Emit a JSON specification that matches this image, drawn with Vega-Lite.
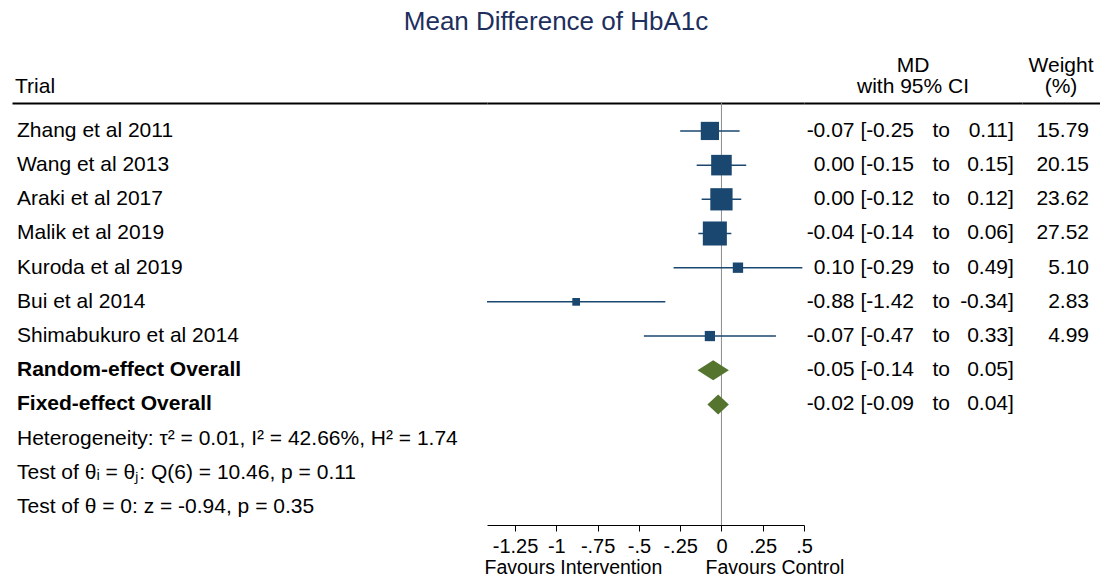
{
  "$schema": "https://vega.github.io/schema/vega-lite/v6.json",
  "padding": {"left": 12, "top": 9, "right": 0, "bottom": 0},
  "title": {
    "text": "Mean Difference of HbA1c",
    "fontSize": 26,
    "fontWeight": "normal",
    "font": "Liberation Sans",
    "color": "#1e2f5e",
    "anchor": "middle",
    "offset": 20
  },
  "datasets": {
    "forest": [
      {"label": "Zhang et al 2011", "kind": "study", "md": -0.07, "lo": -0.25, "hi": 0.11, "w": 15.79},
      {"label": "Wang et al 2013", "kind": "study", "md": 0.0, "lo": -0.15, "hi": 0.15, "w": 20.15},
      {"label": "Araki et al 2017", "kind": "study", "md": 0.0, "lo": -0.12, "hi": 0.12, "w": 23.62},
      {"label": "Malik et al 2019", "kind": "study", "md": -0.04, "lo": -0.14, "hi": 0.06, "w": 27.52},
      {"label": "Kuroda et al 2019", "kind": "study", "md": 0.1, "lo": -0.29, "hi": 0.49, "w": 5.1},
      {"label": "Bui et al 2014", "kind": "study", "md": -0.88, "lo": -1.42, "hi": -0.34, "w": 2.83},
      {"label": "Shimabukuro et al 2014", "kind": "study", "md": -0.07, "lo": -0.47, "hi": 0.33, "w": 4.99},
      {"label": "Random-effect Overall", "kind": "overall", "md": -0.05, "lo": -0.14, "hi": 0.05},
      {"label": "Fixed-effect Overall", "kind": "overall", "md": -0.02, "lo": -0.09, "hi": 0.04},
      {"label": "Heterogeneity: τ² = 0.01, I² = 42.66%, H² = 1.74", "kind": "note"},
      {"label": "Test of θᵢ = θⱼ: Q(6) = 10.46, p = 0.11", "kind": "note"},
      {"label": "Test of θ = 0: z = -0.94, p = 0.35", "kind": "note"}
    ]
  },
  "spacing": 0,
  "bounds": "flush",
  "hconcat": [
    {
      "width": 475,
      "height": 422,
      "title": {"text": "Trial", "anchor": "start", "dx": 3, "fontSize": 21, "fontWeight": "normal", "font": "Liberation Sans", "color": "#000", "baseline": "bottom", "offset": -15, "lineHeight": 21},
      "data": {"name": "forest"},
      "layer": [
        {
          "transform": [{"filter": "datum.kind != 'overall'"}],
          "mark": {"type": "text", "align": "left", "baseline": "middle", "dx": 5, "fontSize": 21},
          "encoding": {
            "x": {"datum": "trial", "type": "nominal", "bandPosition": 0, "scale": {"type": "band", "paddingInner": 0, "paddingOuter": 0},
                  "axis": {"orient": "top", "domain": true, "domainColor": "#000", "domainWidth": 2, "ticks": false, "labels": false, "grid": false, "title": null, "minExtent": 0, "maxExtent": 0}},
            "y": {"field": "label", "type": "nominal", "sort": null, "axis": null,
                  "scale": {"type": "band", "paddingInner": 0, "paddingOuter": 0.1726, "align": 0.92,
                            "domain": ["Zhang et al 2011", "Wang et al 2013", "Araki et al 2017", "Malik et al 2019", "Kuroda et al 2019", "Bui et al 2014", "Shimabukuro et al 2014", "Random-effect Overall", "Fixed-effect Overall", "Heterogeneity: τ² = 0.01, I² = 42.66%, H² = 1.74", "Test of θᵢ = θⱼ: Q(6) = 10.46, p = 0.11", "Test of θ = 0: z = -0.94, p = 0.35"]}},
            "text": {"field": "label"}
          }
        },
        {
          "transform": [{"filter": "datum.kind == 'overall'"}],
          "mark": {"type": "text", "align": "left", "baseline": "middle", "dx": 5, "fontSize": 21, "fontWeight": "bold"},
          "encoding": {
            "x": {"datum": "trial", "type": "nominal", "bandPosition": 0,
                  "axis": {"orient": "top", "domain": true, "domainColor": "#000", "domainWidth": 2, "ticks": false, "labels": false, "grid": false, "title": null, "minExtent": 0, "maxExtent": 0}},
            "y": {"field": "label", "type": "nominal", "sort": null, "axis": null},
            "text": {"field": "label"}
          }
        }
      ]
    },
    {
      "width": 317,
      "height": 422,
      "data": {"name": "forest"},
      "layer": [
        {
          "data": {"values": [{}]},
          "mark": {"type": "rule", "color": "#8c8c8c", "strokeWidth": 1},
          "encoding": {
            "x": {"datum": 0, "type": "quantitative", "scale": {"domain": [-1.42, 0.5], "nice": false, "zero": false},
                  "axis": {"orient": "top", "domain": true, "domainColor": "#000", "domainWidth": 2, "ticks": false, "labels": false, "grid": false, "title": null, "minExtent": 0, "maxExtent": 0}}
          }
        },
        {
          "transform": [{"filter": "datum.kind == 'study'"}],
          "mark": {"type": "rule", "color": "#1a476f", "strokeWidth": 1.5},
          "encoding": {
            "x": {"field": "lo", "type": "quantitative",
                  "axis": {"orient": "bottom", "values": [-1.25, -1, -0.75, -0.5, -0.25, 0, 0.25, 0.5],
                           "labelExpr": "replace('' + datum.value, '0.', '.')",
                           "grid": false, "domainColor": "#000", "domainWidth": 1, "tickColor": "#000", "tickSize": 6, "tickWidth": 1,
                           "labelFontSize": 20, "labelFont": "Liberation Sans", "labelColor": "#000", "labelPadding": 5,
                           "labelFlush": false, "labelOverlap": false,
                           "title": "Favours Intervention\u00a0\u00a0\u00a0\u00a0\u00a0\u00a0\u00a0\u00a0Favours Control",
                           "titleFontSize": 19.5, "titleFont": "Liberation Sans", "titleFontWeight": "normal", "titleColor": "#000",
                           "titleAnchor": "start", "titleAlign": "left", "titleX": -3, "titleY": 48, "titleBaseline": "alphabetic"}},
            "x2": {"field": "hi"},
            "y": {"field": "label", "type": "nominal", "sort": null, "axis": null,
                  "scale": {"type": "band", "paddingInner": 0, "paddingOuter": 0.1726, "align": 0.92,
                            "domain": ["Zhang et al 2011", "Wang et al 2013", "Araki et al 2017", "Malik et al 2019", "Kuroda et al 2019", "Bui et al 2014", "Shimabukuro et al 2014", "Random-effect Overall", "Fixed-effect Overall", "Heterogeneity: τ² = 0.01, I² = 42.66%, H² = 1.74", "Test of θᵢ = θⱼ: Q(6) = 10.46, p = 0.11", "Test of θ = 0: z = -0.94, p = 0.35"]}}
          }
        },
        {
          "transform": [{"filter": "datum.kind == 'study'"}],
          "mark": {"type": "point", "shape": "square", "filled": true, "opacity": 1, "color": "#1a476f"},
          "encoding": {
            "x": {"field": "md", "type": "quantitative", "axis": null},
            "y": {"field": "label", "type": "nominal", "sort": null, "axis": null},
            "size": {"field": "w", "type": "quantitative", "scale": {"type": "linear", "domain": [0, 30], "range": [0, 630]}, "legend": null}
          }
        },
        {
          "transform": [{"filter": "datum.label == 'Random-effect Overall'"}],
          "mark": {"type": "point", "shape": "M-1,0L0,-0.64L1,0L0,0.64Z", "size": 986, "filled": true, "opacity": 1, "color": "#55752f"},
          "encoding": {
            "x": {"field": "md", "type": "quantitative", "axis": null},
            "y": {"field": "label", "type": "nominal", "sort": null, "axis": null}
          }
        },
        {
          "transform": [{"filter": "datum.label == 'Fixed-effect Overall'"}],
          "mark": {"type": "point", "shape": "M-1,0L0,-0.93L1,0L0,0.93Z", "size": 462, "filled": true, "opacity": 1, "color": "#55752f"},
          "encoding": {
            "x": {"field": "md", "type": "quantitative", "axis": null},
            "y": {"field": "label", "type": "nominal", "sort": null, "axis": null}
          }
        }
      ],
      "resolve": {"axis": {"x": "independent"}}
    },
    {
      "width": 218,
      "height": 422,
      "title": {"text": ["MD", "with 95% CI"], "anchor": "middle", "fontSize": 21, "fontWeight": "normal", "font": "Liberation Sans", "color": "#000", "baseline": "bottom", "offset": -15, "lineHeight": 21},
      "data": {"name": "forest"},
      "transform": [{"filter": "datum.kind != 'note'"}],
      "encoding": {
        "y": {"field": "label", "type": "nominal", "sort": null, "axis": null,
              "scale": {"type": "band", "paddingInner": 0, "paddingOuter": 0.1726, "align": 0.92,
                        "domain": ["Zhang et al 2011", "Wang et al 2013", "Araki et al 2017", "Malik et al 2019", "Kuroda et al 2019", "Bui et al 2014", "Shimabukuro et al 2014", "Random-effect Overall", "Fixed-effect Overall", "Heterogeneity: τ² = 0.01, I² = 42.66%, H² = 1.74", "Test of θᵢ = θⱼ: Q(6) = 10.46, p = 0.11", "Test of θ = 0: z = -0.94, p = 0.35"]}}
      },
      "layer": [
        {
          "mark": {"type": "text", "align": "right", "baseline": "middle", "dx": -4, "fontSize": 21},
          "encoding": {
            "x": {"datum": "est", "type": "nominal", "bandPosition": 1,
                  "scale": {"type": "band", "domain": ["est", "lo", "to", "hi"], "paddingInner": 0, "paddingOuter": 0},
                  "axis": {"orient": "top", "domain": true, "domainColor": "#000", "domainWidth": 2, "ticks": false, "labels": false, "grid": false, "title": null, "minExtent": 0, "maxExtent": 0}},
            "text": {"field": "md", "type": "quantitative", "format": ".2f"}
          }
        },
        {
          "mark": {"type": "text", "align": "left", "baseline": "middle", "dx": 2, "fontSize": 21},
          "encoding": {
            "x": {"datum": "lo", "type": "nominal", "bandPosition": 0},
            "text": {"value": "["}
          }
        },
        {
          "mark": {"type": "text", "align": "right", "baseline": "middle", "dx": 1, "fontSize": 21},
          "encoding": {
            "x": {"datum": "lo", "type": "nominal", "bandPosition": 1},
            "text": {"field": "lo", "type": "quantitative", "format": ".2f"}
          }
        },
        {
          "mark": {"type": "text", "align": "center", "baseline": "middle", "dx": 1, "fontSize": 21},
          "encoding": {
            "x": {"datum": "to", "type": "nominal", "bandPosition": 0.5},
            "text": {"value": "to"}
          }
        },
        {
          "mark": {"type": "text", "align": "right", "baseline": "middle", "dx": -14, "fontSize": 21},
          "encoding": {
            "x": {"datum": "hi", "type": "nominal", "bandPosition": 1},
            "text": {"field": "hi", "type": "quantitative", "format": ".2f"}
          }
        },
        {
          "mark": {"type": "text", "align": "left", "baseline": "middle", "dx": -14, "fontSize": 21},
          "encoding": {
            "x": {"datum": "hi", "type": "nominal", "bandPosition": 1},
            "text": {"value": "]"}
          }
        }
      ]
    },
    {
      "width": 78,
      "height": 422,
      "title": {"text": ["Weight", "(%)"], "anchor": "middle", "fontSize": 21, "fontWeight": "normal", "font": "Liberation Sans", "color": "#000", "baseline": "bottom", "offset": -15, "lineHeight": 21},
      "data": {"name": "forest"},
      "transform": [{"filter": "datum.kind == 'study'"}],
      "mark": {"type": "text", "align": "right", "baseline": "middle", "dx": -11, "fontSize": 21},
      "encoding": {
        "x": {"datum": "w", "type": "nominal", "bandPosition": 1,
              "scale": {"type": "band", "paddingInner": 0, "paddingOuter": 0},
              "axis": {"orient": "top", "domain": true, "domainColor": "#000", "domainWidth": 2, "ticks": false, "labels": false, "grid": false, "title": null, "minExtent": 0, "maxExtent": 0}},
        "y": {"field": "label", "type": "nominal", "sort": null, "axis": null,
              "scale": {"type": "band", "paddingInner": 0, "paddingOuter": 0.1726, "align": 0.92,
                        "domain": ["Zhang et al 2011", "Wang et al 2013", "Araki et al 2017", "Malik et al 2019", "Kuroda et al 2019", "Bui et al 2014", "Shimabukuro et al 2014", "Random-effect Overall", "Fixed-effect Overall", "Heterogeneity: τ² = 0.01, I² = 42.66%, H² = 1.74", "Test of θᵢ = θⱼ: Q(6) = 10.46, p = 0.11", "Test of θ = 0: z = -0.94, p = 0.35"]}},
        "text": {"field": "w", "type": "quantitative", "format": ".2f"}
      }
    }
  ],
  "config": {
    "view": {"stroke": null},
    "font": "Liberation Sans",
    "text": {"font": "Liberation Sans", "fontSize": 21, "color": "#000"},
    "locale": {
      "number": {"decimal": ".", "thousands": ",", "grouping": [3], "currency": ["", ""], "minus": "-"}
    }
  }
}
